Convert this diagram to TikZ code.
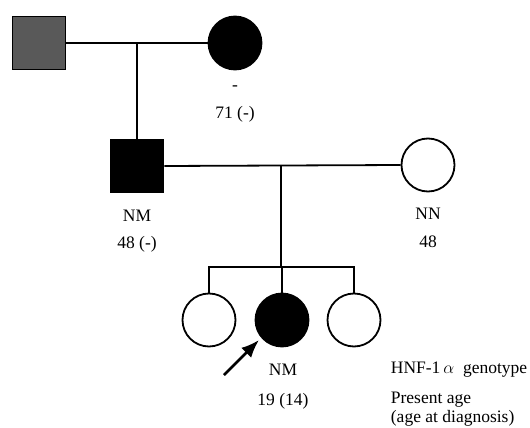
\documentclass[tikz,border=0pt]{standalone}
\usepackage{fontspec}
\setmainfont{Liberation Serif}
\usetikzlibrary{arrows.meta}
\begin{document}
\begin{tikzpicture}[x=1pt,y=-1pt,
  line width=1.8pt,
  male/.style={draw=black, rectangle, minimum size=53pt, inner sep=0pt},
  female/.style={draw=black, circle, minimum size=53pt, inner sep=0pt},
  affected/.style={fill=black},
  carrier/.style={fill=black!65},
  unaffected/.style={fill=white},
  lbl/.style={anchor=base, inner sep=0pt, font=\fontsize{17.5}{20}\selectfont},
  legend/.style={lbl, anchor=base west},
  link/.style={line width=1.8pt},
  pointer/.style={line width=2.6pt, -{Latex[length=18pt,width=14pt]}}]
\useasboundingbox (0,0) rectangle (530,428);

% generation I
\node[male, carrier] (gf) at (39,43) {};
\node[female, affected] (gm) at (235,43) {};
\coordinate (m1) at (137,43);
\draw[link] (gf.east) -- (gm.west);
\node[lbl] (gmg) at (235,91) {-};
\node[lbl] (gma) at (235,118) {71 (-)};

% generation II
\node[male, affected] (fa) at (137,166) {};
\node[female, unaffected] (mo) at (428,165) {};
\coordinate (m2) at (281,166);
\draw[link] (m1) -- (fa.north);
\draw[link] (fa.east) -- (mo.west);
\node[lbl] (fag) at (137,221) {NM};
\node[lbl] (faa) at (137,248) {48 (-)};
\node[lbl] (mog) at (428,219) {NN};
\node[lbl] (moa) at (428,247) {48};

% generation III
\node[female, unaffected] (s1) at (209,320) {};
\node[female, affected] (s2) at (282,320) {};
\node[female, unaffected] (s3) at (354,320) {};
\coordinate (sib) at (281,267);
\draw[link] (m2) -- (sib);
\draw[link] (s1.north) |- (sib) -| (s3.north);
\draw[link] (sib) -| (s2.north);
\node[lbl] (s2g) at (283,375) {NM};
\node[lbl] (s2a) at (283,405) {19 (14)};

% proband arrow
\coordinate (ptail) at (224,375);
\coordinate (ptip) at (259,340);
\draw[pointer] (ptail) -- (ptip);

% key
\node[legend] (k1) at (390,373) {HNF-1\,$\alpha$~ genotype};
\node[legend] (k2) at (390,403) {Present age};
\node[legend] (k3) at (390,422) {(age at diagnosis)};
\end{tikzpicture}
\end{document}
